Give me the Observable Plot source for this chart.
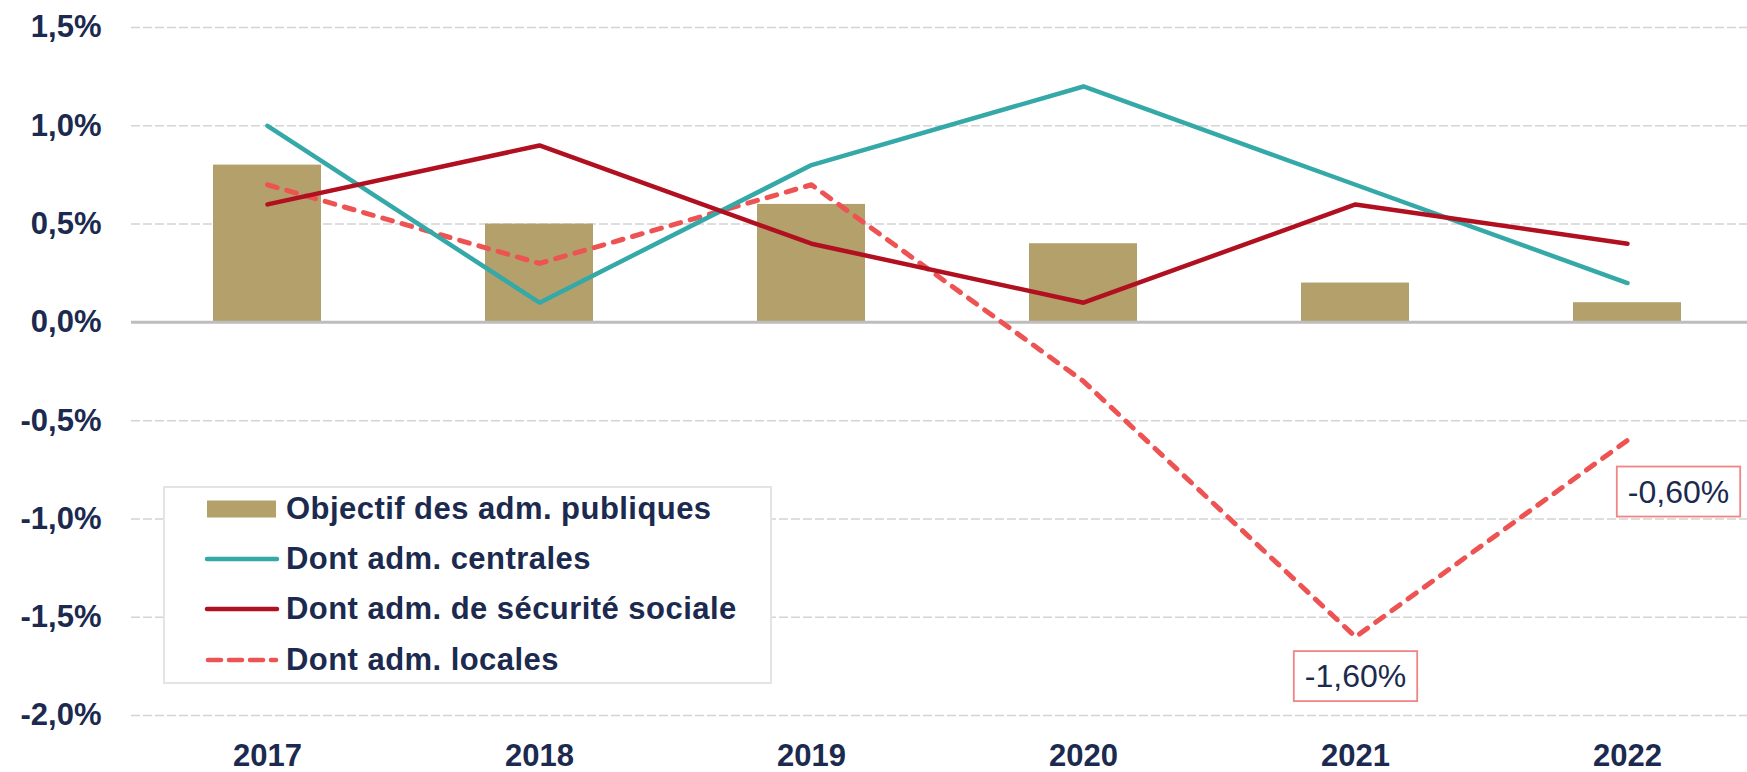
<!DOCTYPE html>
<html>
<head>
<meta charset="utf-8">
<script src="https://cdn.jsdelivr.net/npm/d3@7"></script>
<script src="https://cdn.jsdelivr.net/npm/@observablehq/plot@0.6"></script>
<style>
  body { margin: 0; background: #fff; font-family: "Liberation Sans", Arial, sans-serif; }
  #wrap { position: relative; width: 1747px; height: 772px; overflow: hidden; }
  #legend { position: absolute; left: 163px; top: 486px; width: 605px; height: 194px;
            border: 2px solid #e4e4e4; background: #fff; }
  .row { position: absolute; left: 39px; height: 50px; display: flex; align-items: center;
         font-weight: bold; font-size: 31px; letter-spacing: 0.45px; color: #1b2a4e; white-space: nowrap; }
  .row svg { margin-right: 6px; }
</style>
</head>
<body>
<div id="wrap"></div>
<script>
const years = ["2017", "2018", "2019", "2020", "2021", "2022"];
const objectif = [0.8, 0.5, 0.6, 0.4, 0.2, 0.1];
const centrales = [1.0, 0.1, 0.8, 1.2, 0.7, 0.2];
const securite = [0.6, 0.9, 0.4, 0.1, 0.6, 0.4];
const locales = [0.7, 0.3, 0.7, -0.3, -1.6, -0.6];
const yTicks = [-2.0, -1.5, -1.0, -0.5, 0, 0.5, 1.0, 1.5];
const seriesNames = ["Objectif des adm. publiques", "Dont adm. centrales", "Dont adm. de sécurité sociale", "Dont adm. locales"];
const annotYears = ["2021", "2022"];
const annotLabels = ["-1,60%", "-0,60%"];

const colors = { bar: "#b3a06b", teal: "#35a8a8", red: "#b0101f", dash: "#ee5353" };
const navy = "#1b2a4e";

const data = years.map((y, i) => ({ year: y, objectif: objectif[i], centrales: centrales[i], securite: securite[i], locales: locales[i] }));
const annot = annotYears.map((y, i) => ({ year: y, value: locales[years.indexOf(y)], label: annotLabels[i] }));
const fmt = d => d.toFixed(1).replace(".", ",") + "%";

const plot = Plot.plot({
  width: 1747,
  height: 772,
  marginLeft: 131,
  marginRight: 0,
  marginTop: 27,
  marginBottom: 57,
  style: { fontFamily: "'Liberation Sans', Arial, sans-serif", background: "#fff", overflow: "visible" },
  x: { domain: years, range: [131, 1763], padding: 0, axis: null },
  y: { domain: [-2.0, 1.5], axis: null },
  marks: [
    Plot.gridY(yTicks.filter(d => d !== 0), { stroke: "#d4d4d4", strokeOpacity: 1, strokeWidth: 1.5, strokeDasharray: "9,3" }),
    Plot.barY(data, { x: "year", y: "objectif", fill: colors.bar, insetLeft: 82, insetRight: 82 }),
    Plot.ruleY([0], { stroke: "#bdbdbd", strokeWidth: 3 }),
    Plot.lineY(data, { x: "year", y: "locales", stroke: colors.dash, strokeWidth: 5, strokeDasharray: "10,10", strokeLinecap: "round" }),
    Plot.lineY(data, { x: "year", y: "centrales", stroke: colors.teal, strokeWidth: 4.5 }),
    Plot.lineY(data, { x: "year", y: "securite", stroke: colors.red, strokeWidth: 4.5 }),
    Plot.axisY(yTicks, { tickSize: 0, tickPadding: 30, tickFormat: fmt, fontSize: 31, fontWeight: "bold", fill: navy, label: null }),
    Plot.axisX(years, { tickSize: 0, tickPadding: 28, fontSize: 31, fontWeight: "bold", fill: navy, label: null }),
    Plot.text([annot[0]], { x: "year", y: "value", text: "label", dy: 40, fontSize: 32, fill: navy, className: "annot" }),
    Plot.text([annot[1]], { x: "year", y: "value", text: "label", dx: 51, dy: 52, fontSize: 32, fill: navy, className: "annot" })
  ]
});

const wrap = document.getElementById("wrap");
wrap.appendChild(plot);

// boxes around annotations
plot.querySelectorAll("g.annot text").forEach(t => {
  const b = t.getBBox();
  const r = document.createElementNS("http://www.w3.org/2000/svg", "rect");
  const cy = b.y + b.height / 2;
  r.setAttribute("x", b.x - 11);
  r.setAttribute("y", cy - 25);
  r.setAttribute("width", b.width + 22);
  r.setAttribute("height", 50);
  r.setAttribute("fill", "#fff");
  r.setAttribute("stroke", "#f08585");
  r.setAttribute("stroke-width", 1.8);
  if (t.getAttribute("transform")) r.setAttribute("transform", t.getAttribute("transform"));
  t.parentNode.insertBefore(r, t);
});

// legend
const legend = document.createElement("div");
legend.id = "legend";
const swatches = [
  `<svg width="76" height="20"><rect x="3" y="1.5" width="69" height="17" fill="${colors.bar}"/></svg>`,
  `<svg width="76" height="20"><line x1="3" y1="10" x2="73" y2="10" stroke="${colors.teal}" stroke-width="4.5" stroke-linecap="round"/></svg>`,
  `<svg width="76" height="20"><line x1="3" y1="10" x2="73" y2="10" stroke="${colors.red}" stroke-width="4.5" stroke-linecap="round"/></svg>`,
  `<svg width="76" height="20"><line x1="4" y1="10" x2="72" y2="10" stroke="${colors.dash}" stroke-width="4.5" stroke-dasharray="13,8" stroke-linecap="round"/></svg>`
];
const rowCenters = [21, 71, 121, 172];
seriesNames.forEach((name, i) => {
  const row = document.createElement("div");
  row.className = "row";
  row.style.top = (rowCenters[i] - 25) + "px";
  row.innerHTML = swatches[i] + `<span>${name}</span>`;
  legend.appendChild(row);
});
wrap.appendChild(legend);
</script>
</body>
</html>
